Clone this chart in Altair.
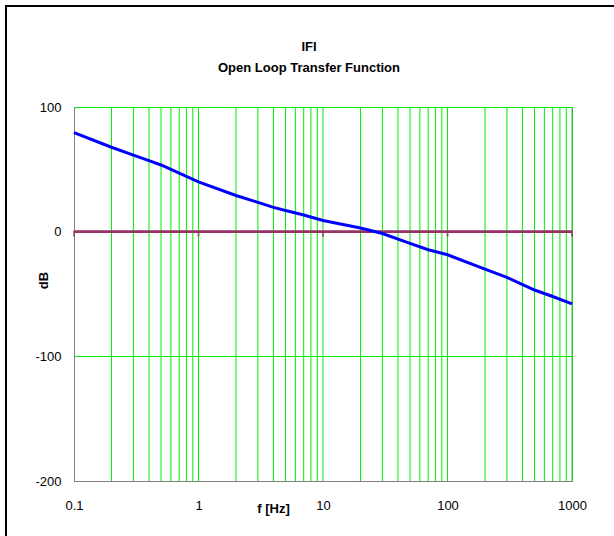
import altair as alt
import pandas as pd

# Blue open-loop curve
freq = [0.1, 0.2, 0.3, 0.4, 0.5, 0.7, 1, 2, 3, 4, 5, 7, 10, 20, 30, 50, 70, 100, 200, 300, 500, 700, 1000]
gain_db = [79.5, 67.7, 61.4, 57, 53.5, 47, 40, 29, 23.5, 19.5, 17, 13.4, 9, 3, -1.5, -9.4, -14.5, -18.5,
           -30, -36.7, -46.8, -52, -58]

decades = [0.1, 1, 10, 100, 1000]
minor_grid = [m * d for d in [0.1, 1, 10, 100] for m in range(2, 11)]
y_ticks = [-200, -100, 0, 100]

FONT = "Liberation Sans"

curve = pd.DataFrame({"f": freq, "dB": gain_db})
grid = pd.DataFrame({"f": minor_grid})
dec = pd.DataFrame({"f": decades, "zero": [0] * len(decades)})
one = pd.DataFrame({"k": [0]})

xscale = alt.Scale(type="log", domain=[0.1, 1000], nice=False)
yscale = alt.Scale(domain=[-200, 100], nice=False)

xaxis = alt.Axis(values=decades, labelExpr="toString(datum.value)", labelFlush=False,
                 grid=False, ticks=False, domainColor="#808080", labelFont=FONT, labelFontSize=13,
                 labelColor="black", labelPadding=18, title="f [Hz]", titleFont=FONT, titleFontSize=13,
                 titleFontWeight="bold", titleColor="black", titleX=199, titleY=27,
                 titleBaseline="middle", titleAlign="center")
yaxis = alt.Axis(values=y_ticks, labelExpr="toString(datum.value)", labelFlush=False,
                 grid=True, gridColor="#00ee00", gridOpacity=1, ticks=False,
                 domainColor="#808080", labelFont=FONT, labelFontSize=13, labelColor="black",
                 labelPadding=13, title="dB", titleFont=FONT, titleFontSize=13, titleFontWeight="bold",
                 titleColor="black", titleX=-31, titleY=173, titleBaseline="middle", titleAlign="center")

vgrid = alt.Chart(grid).mark_rule(color="#00ee00", strokeWidth=1).encode(
    x=alt.X("f:Q", scale=xscale, axis=xaxis)
)

zero_line = alt.Chart(dec).mark_rule(color="#993366", strokeWidth=2).encode(
    y=alt.Y("zero:Q", scale=yscale, axis=yaxis),
    x=alt.value(0), x2=alt.value(498)
)
zero_ticks = alt.Chart(dec).mark_tick(color="#993366", thickness=2, size=6, orient="vertical", yOffset=2).encode(
    x=alt.X("f:Q", scale=xscale),
    y=alt.Y("zero:Q", scale=yscale)
)

line = alt.Chart(curve).mark_line(color="#0000ff", strokeWidth=3).encode(
    x=alt.X("f:Q", scale=xscale),
    y=alt.Y("dB:Q", scale=yscale)
)

frame_left = alt.Chart(one).mark_rule(color="black", strokeWidth=2).encode(
    x=alt.value(-68), y=alt.value(-101), y2=alt.value(440)
)
frame_top = alt.Chart(one).mark_rule(color="black", strokeWidth=2).encode(
    y=alt.value(-101), x=alt.value(-69), x2=alt.value(540)
)

chart = alt.layer(vgrid, zero_line, zero_ticks, line, frame_left, frame_top).properties(
    width=498, height=374,
    title=alt.TitleParams(text=["IFI", "Open Loop Transfer Function"], font=FONT, fontSize=13,
                          fontWeight="bold", color="black", lineHeight=21, offset=-70, dx=-14,
                          anchor="middle", frame="group"),
    autosize=alt.AutoSizeParams(type="none"),
    padding={"left": 74, "top": 107, "right": 42, "bottom": 55},
    background="white",
).configure_view(stroke="#808080", strokeWidth=1)

chart.save("out.html", embed_options={"renderer": "svg", "actions": False})
